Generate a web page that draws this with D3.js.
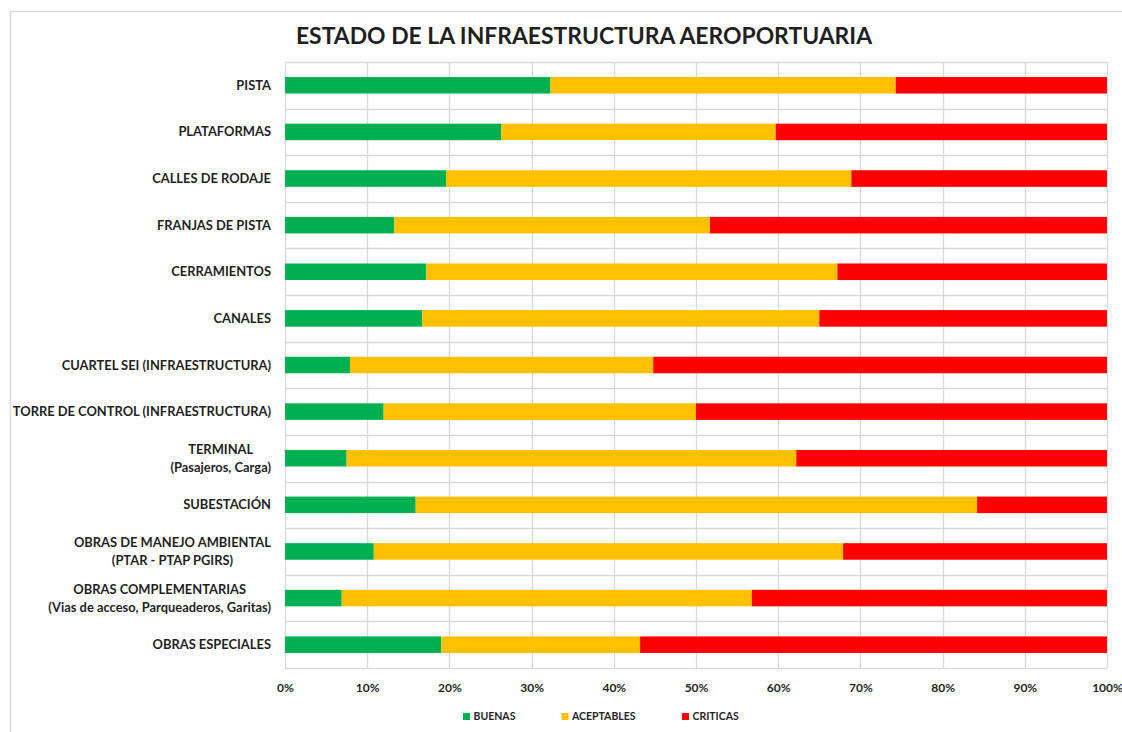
<!DOCTYPE html>
<html>
<head>
<meta charset="utf-8">
<script src="https://cdn.jsdelivr.net/npm/d3@7"></script>
<style>
  html, body { margin: 0; padding: 0; background: #fff; }
  svg { display: block; }
  text { font-family: Lato, "Open Sans", sans-serif; font-weight: bold; fill: #1f1f1f; }
</style>
</head>
<body>
<svg id="chart" width="1122" height="732"></svg>
<script>
// ---- data ----
const categories = [
  "PISTA",
  "PLATAFORMAS",
  "CALLES DE RODAJE",
  "FRANJAS DE PISTA",
  "CERRAMIENTOS",
  "CANALES",
  "CUARTEL SEI (INFRAESTRUCTURA)",
  "TORRE DE CONTROL (INFRAESTRUCTURA)",
  "TERMINAL\n(Pasajeros, Carga)",
  "SUBESTACIÓN",
  "OBRAS DE MANEJO AMBIENTAL\n(PTAR - PTAP PGIRS)",
  "OBRAS COMPLEMENTARIAS\n(Vias de acceso, Parqueaderos, Garitas)",
  "OBRAS ESPECIALES"
];
const buenas      = [32.3, 26.3, 19.6, 13.3, 17.2, 16.7,  7.9, 12.0,  7.5, 15.9, 10.8,  6.9, 19.0];
const aceptables  = [42.0, 33.4, 49.3, 38.4, 50.0, 48.3, 36.9, 38.0, 54.7, 68.3, 57.1, 49.9, 24.2];
const criticas    = [25.7, 40.3, 31.1, 48.3, 32.8, 35.0, 55.2, 50.0, 37.8, 15.8, 32.1, 43.2, 56.8];
const seriesNames = ["BUENAS", "ACEPTABLES", "CRITICAS"];
const seriesColors = ["#00B050", "#FFC000", "#FF0000"];
const tickValues = [0, 0.1, 0.2, 0.3, 0.4, 0.5, 0.6, 0.7, 0.8, 0.9, 1.0];
const title = "ESTADO DE LA INFRAESTRUCTURA AEROPORTUARIA";

// ---- build table ----
const table = categories.map((c, i) => ({
  cat: c, BUENAS: buenas[i], ACEPTABLES: aceptables[i], CRITICAS: criticas[i]
}));
const stacked = d3.stack().keys(seriesNames).offset(d3.stackOffsetExpand)(table);

const svg = d3.select("#chart");
const plot = { left: 285, right: 1107, top: 62, bottom: 668 };

// outer chart border (top + left visible)
svg.append("rect")
  .attr("x", 10.5).attr("y", 11.5)
  .attr("width", 1140).attr("height", 760)
  .attr("fill", "none").attr("stroke", "#d9d9d9").attr("stroke-width", 1.5);

const x = d3.scaleLinear().domain([0, 1]).range([plot.left, plot.right]);
const y = d3.scaleBand().domain(categories)
  .range([plot.top, plot.bottom])
  .paddingInner(0.645).paddingOuter(0.3225);

// gridlines
const grid = svg.append("g").attr("stroke", "#d9d9d9").attr("stroke-width", 1.3);
grid.selectAll("line.v").data(tickValues).join("line")
  .attr("x1", d => Math.round(x(d)) + 0.5).attr("x2", d => Math.round(x(d)) + 0.5)
  .attr("y1", plot.top).attr("y2", plot.bottom);
const step = y.step();
const bounds = d3.range(categories.length + 1).map(i => plot.top + i * step);
grid.selectAll("line.h").data(bounds).join("line")
  .attr("x1", plot.left).attr("x2", plot.right)
  .attr("y1", d => Math.round(d) + 0.5).attr("y2", d => Math.round(d) + 0.5);

// bars
svg.append("g").selectAll("g").data(stacked).join("g")
  .attr("fill", (d, i) => seriesColors[i])
  .selectAll("rect").data(d => d).join("rect")
  .attr("x", d => x(d[0]))
  .attr("width", d => x(d[1]) - x(d[0]))
  .attr("y", d => y(d.data.cat))
  .attr("height", y.bandwidth());

// x axis
const xAxis = svg.append("g").attr("transform", `translate(0,${plot.bottom})`)
  .call(d3.axisBottom(x).tickValues(tickValues).tickFormat(d3.format(".0%")).tickSize(0));
xAxis.select(".domain").remove();
xAxis.selectAll("text")
  .attr("y", 20).attr("dy", "0.35em")
  .style("font-size", "12px").style("font-family", "Lato, sans-serif").style("font-weight", "bold")
  .attr("fill", "#1f1f1f");

// y axis (category labels)
const yAxis = svg.append("g").attr("transform", `translate(${plot.left},0)`)
  .call(d3.axisLeft(y).tickSize(0));
yAxis.select(".domain").remove();
yAxis.selectAll("text").each(function(d) {
  const t = d3.select(this);
  const lines = d.split("\n");
  t.text(null)
    .attr("x", null).attr("dy", null)
    .style("font-size", "12.9px").style("font-family", "Lato, sans-serif").style("font-weight", "bold")
    .attr("fill", "#1f1f1f");
  const lh = 18;
  const y0 = -(lines.length - 1) * lh / 2;
  const tspans = lines.map((ln, k) => t.append("tspan")
    .attr("y", y0 + k * lh).attr("dy", "0.35em").text(ln));
  if (lines.length > 1) {
    const widths = tspans.map(ts => ts.node().getComputedTextLength());
    const maxW = d3.max(widths);
    const cx = -14 - maxW / 2;
    t.attr("text-anchor", "middle");
    tspans.forEach(ts => ts.attr("x", cx));
  } else {
    tspans[0].attr("x", -14);
  }
});

// title
svg.append("text")
  .attr("x", 584).attr("y", 36).attr("dy", "0.35em")
  .attr("text-anchor", "middle")
  .style("font-size", "22.9px").attr("fill", "#111")
  .text(title);

// legend
const legendX = [463, 561.5, 682];
const legendY = 716.5;
const lg = svg.append("g");
seriesNames.forEach((n, i) => {
  lg.append("rect").attr("x", legendX[i]).attr("y", legendY - 3.5)
    .attr("width", 7).attr("height", 7).attr("fill", seriesColors[i]);
  lg.append("text").attr("x", legendX[i] + 10.5).attr("y", legendY).attr("dy", "0.35em")
    .style("font-size", "10.5px").attr("fill", "#1f1f1f").text(n);
});
</script>
</body>
</html>
